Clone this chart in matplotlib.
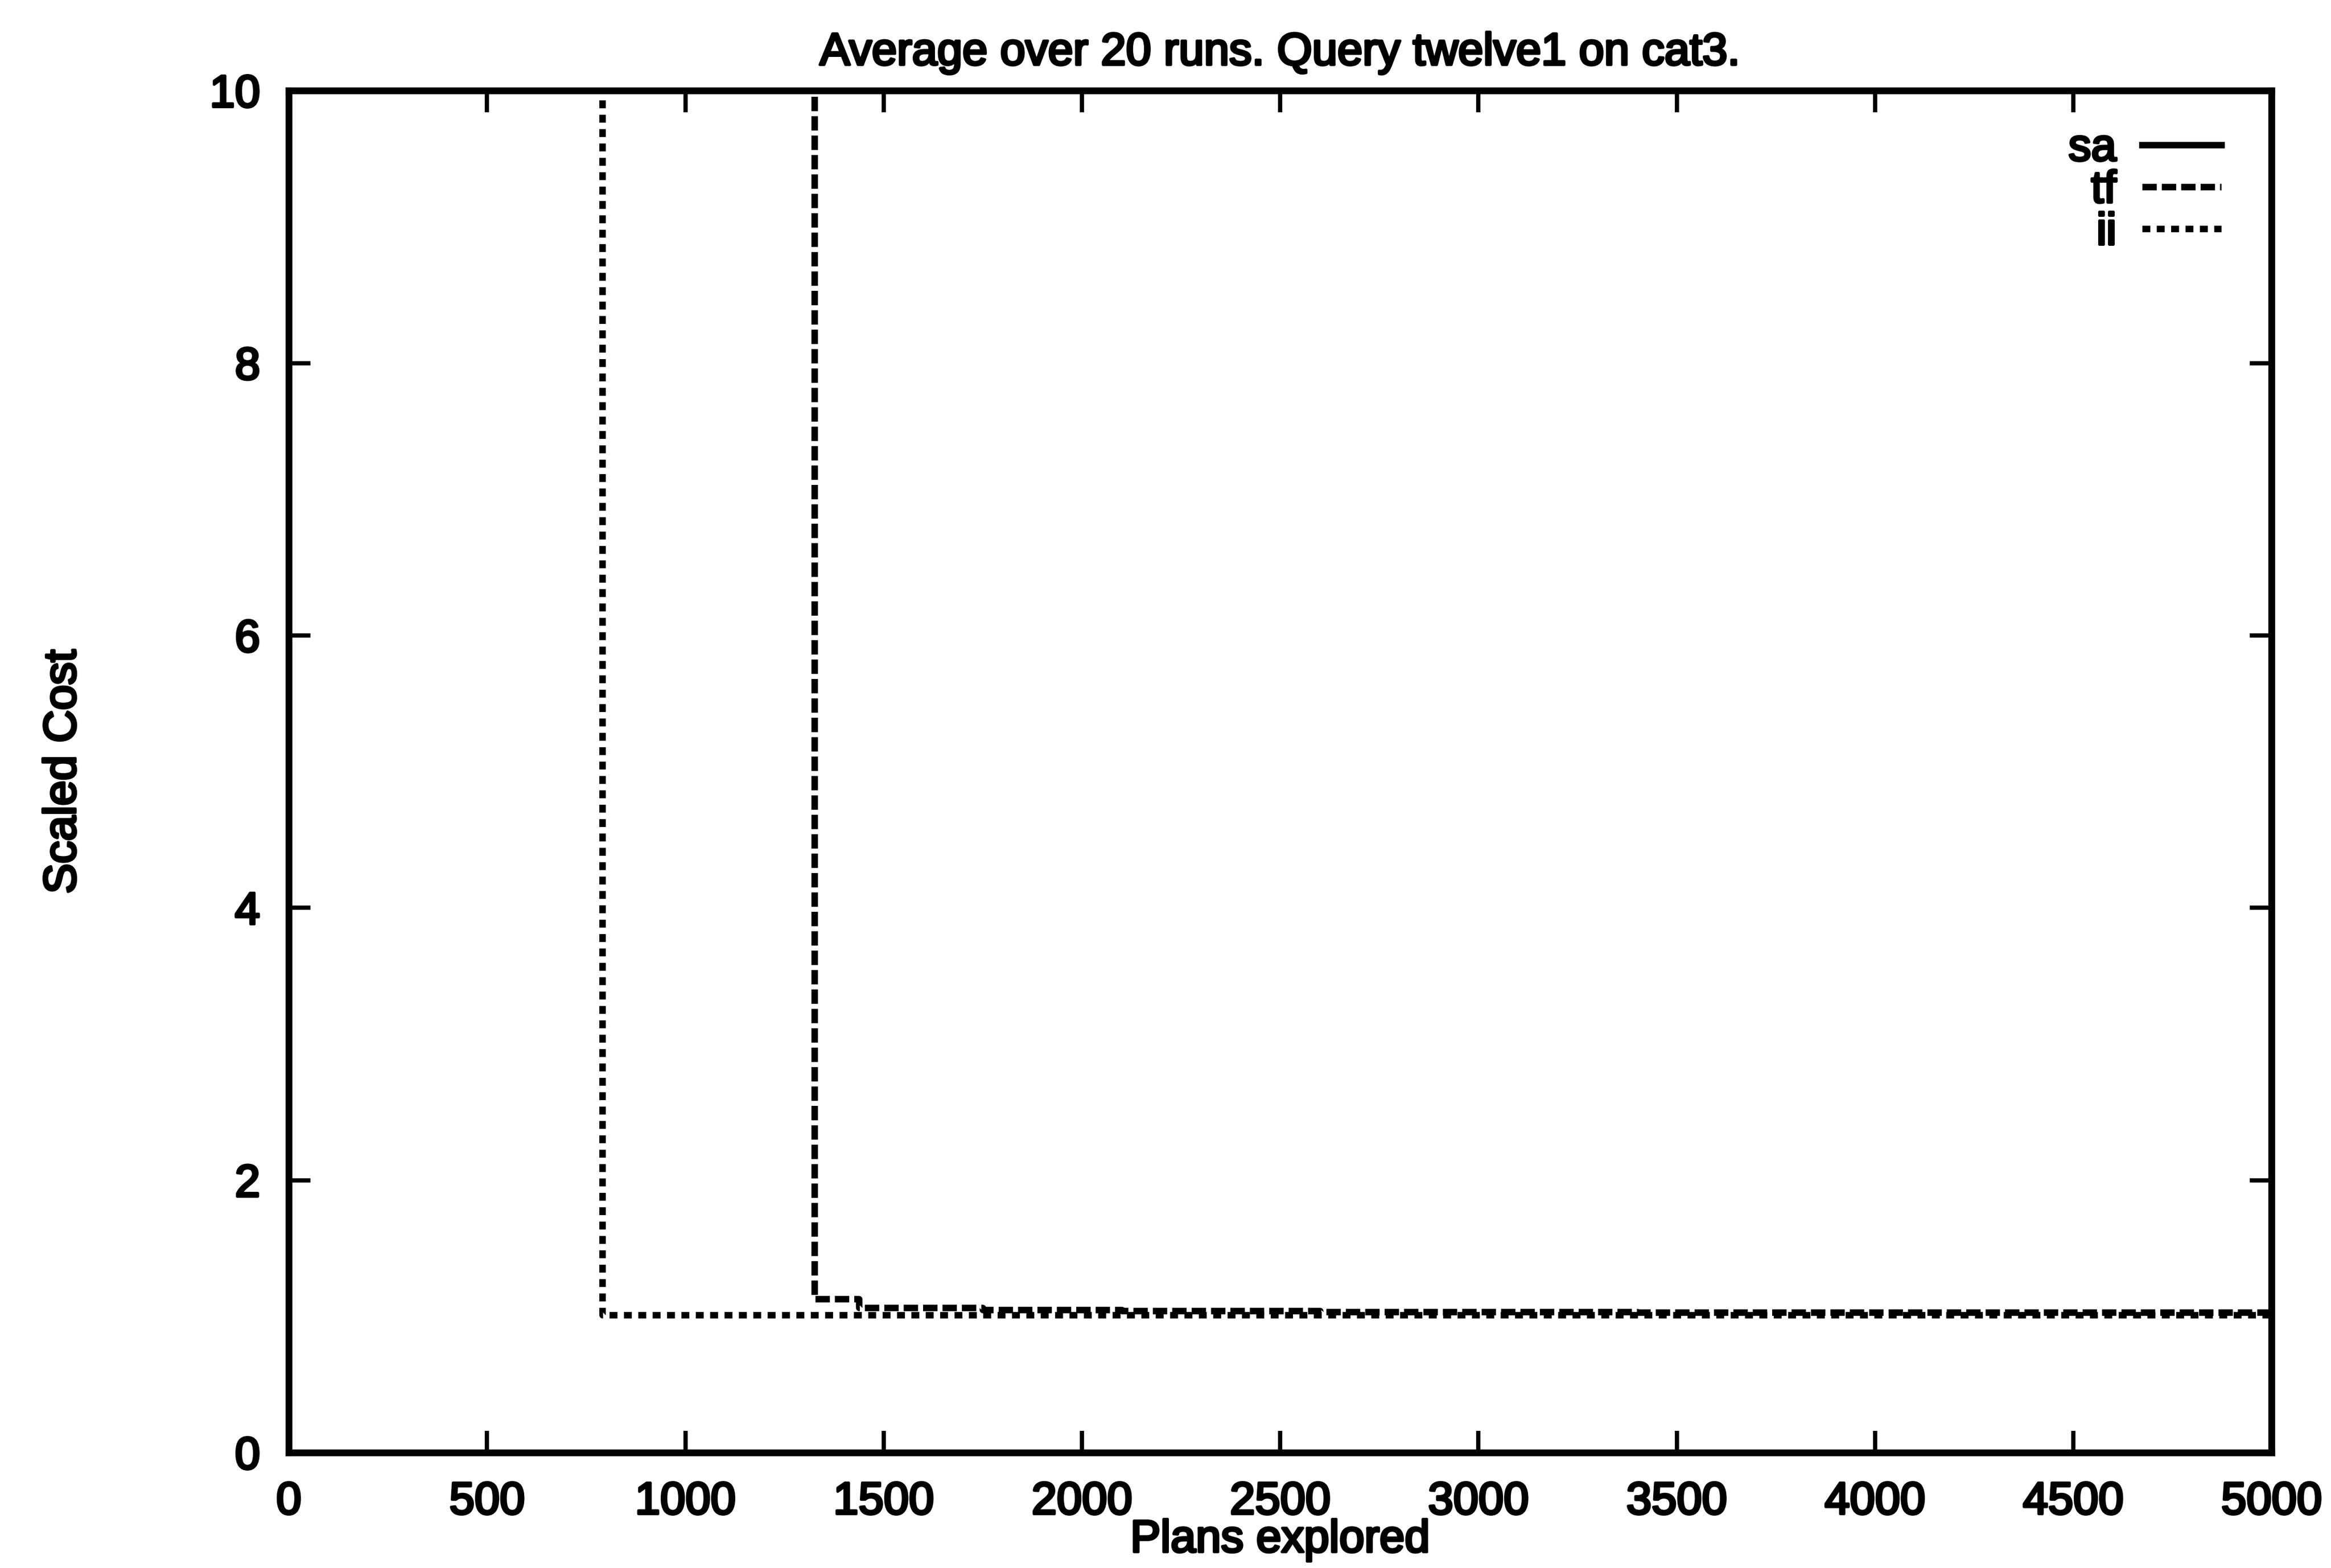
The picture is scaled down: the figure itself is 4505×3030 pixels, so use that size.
import matplotlib
matplotlib.use("Agg")
import matplotlib.pyplot as plt
import matplotlib.patheffects as pe

# Average scaled cost against number of plans explored (steps, 20-run mean)
sa_x = []
sa_y = []
tf_x = [0, 1326, 1438, 1750, 2100, 2600, 3400, 5000]
tf_y = [30.0, 1.13, 1.065, 1.05, 1.04, 1.035, 1.03, 1.03]
ii_x = [0, 790, 5000]
ii_y = [30.0, 1.01, 1.01]

x_ticks = [0, 500, 1000, 1500, 2000, 2500, 3000, 3500, 4000, 4500, 5000]
y_ticks = [0, 2, 4, 6, 8, 10]

plt.rcParams["font.family"] = ["Liberation Sans", "DejaVu Sans"]
plt.rcParams["lines.scale_dashes"] = False

FS = 63
thick = [pe.withStroke(linewidth=3.6, foreground="black")]

fig = plt.figure(figsize=(45.05, 30.30), dpi=100)
ax = fig.add_axes([0.1239, 0.0736, 0.9745 - 0.1239, 0.9422 - 0.0736])

lw = 9
ax.plot(sa_x, sa_y, color="black", lw=lw, linestyle="-", label="sa")
ax.plot(tf_x, tf_y, color="black", lw=lw, drawstyle="steps-post",
        dashes=(20, 7), label="tf")
ax.plot(ii_x, ii_y, color="black", lw=lw, drawstyle="steps-post",
        dashes=(11, 9), label="ii")

ax.set_xlim(0, 5000)
ax.set_ylim(0, 10)
ax.set_xticks(x_ticks)
ax.set_yticks(y_ticks)
ax.set_xticklabels([str(v) for v in x_ticks])
ax.set_yticklabels([str(v) for v in y_ticks])

for s in ax.spines.values():
    s.set_linewidth(9.5)
ax.tick_params(direction="in", length=30, width=6, top=True, right=True,
               labelsize=FS, pad=40)
for lab in ax.get_xticklabels() + ax.get_yticklabels():
    lab.set_path_effects(thick)

ax.set_title("Average over 20 runs. Query twelve1 on cat3.", fontsize=FS,
             pad=36, path_effects=thick)
ax.set_xlabel("Plans explored", fontsize=FS, path_effects=thick)
ax.xaxis.set_label_coords(0.5, -0.049)
ax.set_ylabel("Scaled Cost", fontsize=FS, va="center", path_effects=thick)
ax.yaxis.set_label_coords(-0.1135, 0.5)

leg = ax.legend(loc="upper right", bbox_to_anchor=(0.9747, 0.9726),
                frameon=False, markerfirst=False, fontsize=FS,
                handlelength=1.75, handletextpad=0.57, labelspacing=0.0,
                borderpad=0, borderaxespad=0)
for t in leg.get_texts():
    t.set_path_effects(thick)

fig.savefig("out.png", dpi=100, facecolor="white")
